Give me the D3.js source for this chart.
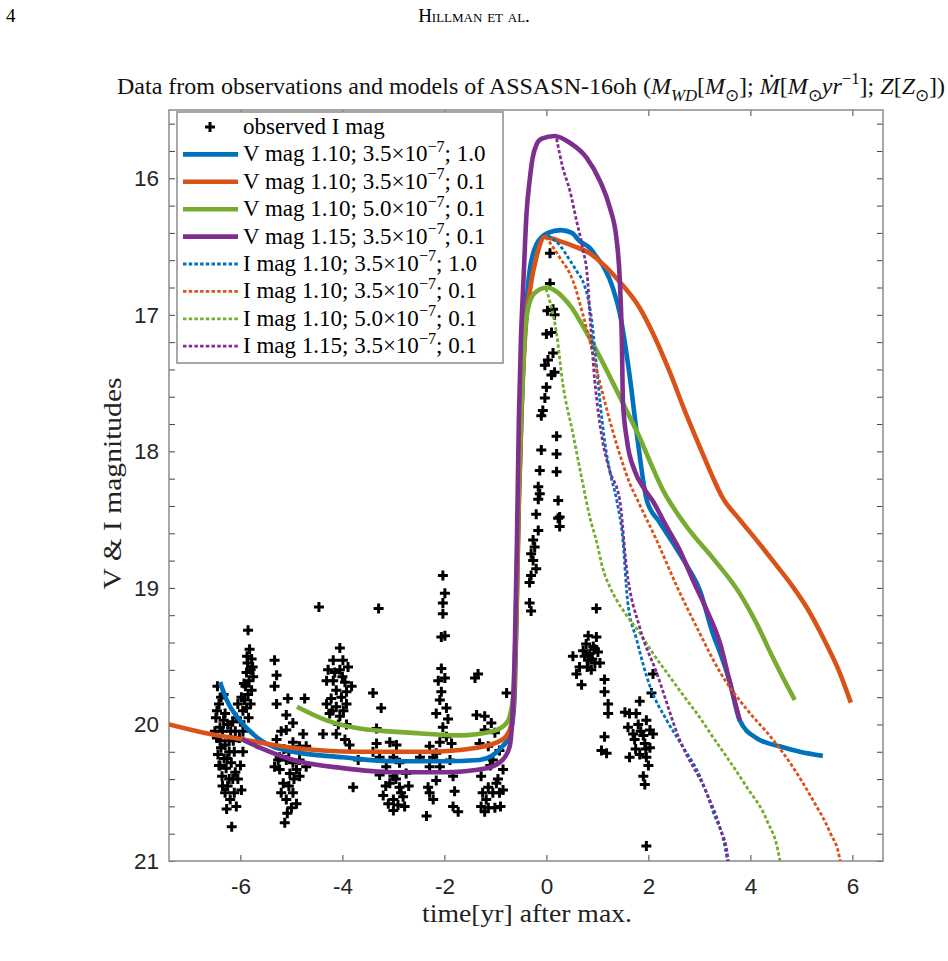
<!DOCTYPE html>
<html><head><meta charset="utf-8">
<script src="https://cdn.jsdelivr.net/npm/d3@7"></script>
<style>body{margin:0;background:#fff}</style>
</head><body>
<svg id="c" width="948" height="961"></svg>
<script>
// ---------- DATA ----------
const xTicks = [-6, -4, -2, 0, 2, 4, 6];
const yMajorTicks = [16, 17, 18, 19, 20, 21];
const legendLabels = [
  {band: "V", mass: "1.10", mdot: "3.5", z: "1.0"},
  {band: "V", mass: "1.10", mdot: "3.5", z: "0.1"},
  {band: "V", mass: "1.10", mdot: "5.0", z: "0.1"},
  {band: "V", mass: "1.15", mdot: "3.5", z: "0.1"},
  {band: "I", mass: "1.10", mdot: "3.5", z: "1.0"},
  {band: "I", mass: "1.10", mdot: "3.5", z: "0.1"},
  {band: "I", mass: "1.10", mdot: "5.0", z: "0.1"},
  {band: "I", mass: "1.15", mdot: "3.5", z: "0.1"}
];
const observedI = [
 [-6.45,19.72],[-6.42,19.85],[-6.48,19.95],[-6.40,20.02],[-6.46,20.10],[-6.38,20.17],[-6.44,20.22],[-6.35,20.05],[-6.30,19.92],[-6.32,20.25],[-6.28,20.32],[-6.36,20.38],[-6.25,20.45],[-6.22,20.12],[-6.18,20.28],[-6.15,20.40],[-6.20,20.55],[-6.30,20.50],[-6.12,20.20],[-6.10,20.35],[-6.38,19.80],[-6.33,19.97],[-6.25,20.00],[-6.19,20.05],[-6.15,19.98],[-6.40,20.30],[-6.27,20.62],[-6.17,20.75],[-6.05,19.85],[-6.08,19.95],[-6.02,20.10],[-6.50,20.05],[-6.22,20.20],[-5.98,20.48],[-6.00,20.30],[-5.95,20.20],[-6.05,20.40],
 [-6.42,20.30],[-6.35,20.45],[-6.30,20.15],[-6.26,20.25],[-6.12,20.50],[-6.08,20.60],[-6.22,20.40],[-6.40,20.12],[-6.46,19.90],[-6.33,19.78],[-6.14,20.12],[-6.10,20.05],
 [-5.85,19.31],[-5.82,19.45],[-5.78,19.52],[-5.86,19.55],[-5.80,19.60],[-5.88,19.62],[-5.75,19.65],[-5.83,19.68],[-5.90,19.72],[-5.78,19.75],[-5.85,19.78],[-5.92,19.82],[-5.80,19.85],[-5.88,19.88],[-5.95,19.90],[-5.84,19.95],[-6.00,19.98],[-5.76,19.58],[-5.93,19.70],[-5.87,19.50],[-5.95,20.05],[-5.98,19.80],
 [-5.33,19.53],[-5.29,19.64],[-5.33,19.72],[-5.29,19.85],[-5.07,19.81],[-4.74,19.81],[-5.10,19.93],[-4.97,19.99],[-5.10,20.04],[-4.77,20.07],[-5.29,20.11],[-4.97,20.13],[-5.23,20.24],[-5.10,20.26],[-4.97,20.28],[-4.84,20.26],[-4.71,20.31],[-5.23,20.33],[-5.03,20.36],[-4.84,20.38],[-5.16,20.43],[-4.97,20.50],[-5.10,20.55],[-4.90,20.58],[-5.00,20.61],[-5.13,20.72],[-5.26,20.26],[-5.33,20.31],[-4.71,20.16],[-4.84,20.16],
 [-5.20,20.05],[-5.15,20.18],[-5.05,20.20],[-4.95,20.40],[-5.05,20.45],[-4.90,20.33],[-5.20,20.50],[-5.08,20.65],
 [-4.46,19.14],
 [-4.05,19.44],[-4.18,19.53],[-3.99,19.53],[-4.28,19.60],[-4.05,19.60],[-3.89,19.58],[-4.18,19.68],[-4.31,19.68],[-3.95,19.69],[-3.82,19.72],[-4.12,19.75],[-4.02,19.80],[-4.31,19.85],[-4.12,19.87],[-3.92,19.85],[-4.25,19.92],[-4.05,19.94],[-4.38,20.07],[-4.12,20.07],[-3.92,20.00],[-3.95,20.11],[-4.22,19.81],[-3.92,19.76],
 [-4.20,19.90],[-4.00,19.65],[-4.15,19.62],[-3.98,19.90],[-4.08,20.00],
 [-3.29,19.15],
 [-3.40,19.77],[-3.24,19.88],[-3.33,20.03],[-3.86,20.15],[-3.69,20.26],[-3.79,20.46],[-3.33,20.14],[-3.07,20.13],[-2.94,20.15],[-3.27,20.24],[-3.00,20.24],[-3.14,20.31],[-2.88,20.28],[-3.27,20.37],[-3.00,20.38],[-2.75,20.36],[-3.07,20.43],[-2.88,20.46],[-3.20,20.52],[-3.00,20.55],[-2.81,20.53],[-3.00,20.63],[-2.78,20.60],[-2.91,20.59],[-2.35,20.67],[-2.32,20.46],[-2.29,20.31],[-2.29,20.16],[-2.48,20.24],[-2.22,20.24],
 [-3.15,20.45],[-2.95,20.40],[-2.85,20.50],[-3.10,20.58],[-2.70,20.45],[-3.40,20.20],
 [-2.03,18.91],[-1.99,19.04],[-2.03,19.11],[-2.03,19.19],[-2.06,19.36],[-1.99,19.35],[-2.06,19.59],[-2.12,19.68],[-1.99,19.66],[-2.06,19.76],[-2.09,19.82],[-2.16,19.92],[-1.96,19.88],[-1.93,19.96],[-2.03,20.02],[-1.96,20.09],[-2.09,20.13],[-1.86,20.14],[-2.16,20.21],[-1.89,20.26],[-2.09,20.31],[-1.83,20.38],[-2.16,20.41],[-2.29,20.50],[-1.80,20.49],[-1.83,20.60],[-1.73,20.64],[-2.22,20.55],
 [-1.34,19.63],[-1.40,19.66],[-1.37,19.93],[-1.21,19.94],[-1.08,19.99],[-1.21,20.04],[-1.01,20.06],[-1.31,20.14],[-1.14,20.16],[-0.92,20.19],[-1.05,20.26],[-0.85,20.33],[-1.28,20.38],[-1.14,20.46],[-0.98,20.43],[-0.85,20.48],[-1.05,20.50],[-0.92,20.50],[-1.28,20.60],[-1.14,20.61],[-1.01,20.61],[-1.21,20.64],[-0.78,19.77],
 [-1.10,20.30],[-1.18,20.55],[-0.95,20.40],[-1.25,20.50],[-0.90,20.60],
 [0.07,16.55],[0.07,16.77],[0.02,16.97],[0.13,16.96],[0.16,17.00],[0.00,17.14],[0.10,17.13],[0.13,17.28],[0.03,17.33],[-0.03,17.37],[0.16,17.42],[0.10,17.44],[0.00,17.53],[-0.03,17.61],[-0.07,17.70],[-0.10,17.74],[0.20,17.89],[-0.10,17.99],[0.20,18.02],[-0.13,18.14],[0.20,18.15],[-0.16,18.26],[-0.13,18.31],[-0.16,18.35],[0.23,18.36],[-0.20,18.46],[0.23,18.49],[0.26,18.55],[-0.16,18.58],[-0.26,18.65],[-0.23,18.70],[-0.30,18.75],[-0.26,18.80],[-0.20,18.86],[-0.30,18.91],[-0.33,18.96],[-0.33,19.11],[-0.30,19.17],[0.26,18.48],
 [0.98,19.15],[0.82,19.35],[0.98,19.36],[0.78,19.41],[0.92,19.43],[0.72,19.46],[0.85,19.48],[1.01,19.47],[0.52,19.50],[0.82,19.53],[0.95,19.55],[0.65,19.58],[1.05,19.55],[0.88,19.60],[0.59,19.63],[0.69,19.71],[1.14,19.67],[1.14,19.76],[1.21,19.85],[1.21,19.92],[1.14,20.09],[1.18,20.21],[1.08,20.19],
 [0.90,19.52],[0.75,19.50],[0.95,19.45],[0.80,19.58],
 [1.83,19.83],[1.63,19.92],[1.76,19.92],[1.60,20.02],[1.80,20.00],[1.96,19.97],[2.03,20.04],[1.70,20.07],[1.90,20.08],[2.09,20.07],[1.73,20.11],[1.93,20.14],[2.03,20.17],[1.63,20.24],[1.83,20.22],[1.96,20.24],[1.90,20.38],[1.93,20.44],[1.96,20.89],[2.09,19.63],[2.06,19.77],[1.54,19.91],
 [1.85,20.05],[1.95,20.18],[1.75,20.18],[2.00,20.30]
];
const vMag110_35_10 = [[-6.40,19.69],[-6.27,19.82],[-6.01,19.97],[-5.62,20.11],[-4.97,20.20],[-3.99,20.24],[-3.01,20.27],[-2.03,20.27],[-1.31,20.26],[-0.86,20.16],[-0.72,20.08],[-0.66,19.97],[-0.62,19.75],[-0.58,19.09],[-0.54,18.36],[-0.48,17.63],[-0.41,17.04],[-0.33,16.68],[-0.19,16.48],[0.03,16.40],[0.28,16.38],[0.50,16.40],[0.65,16.46],[0.85,16.51],[0.99,16.58],[1.14,16.66],[1.30,16.80],[1.44,16.99],[1.63,17.44],[1.79,17.92],[1.97,18.36],[2.22,18.52],[2.48,18.67],[2.76,18.84],[3.01,19.02],[3.26,19.33],[3.44,19.51],[3.59,19.68],[3.79,19.97],[4.12,20.10],[4.57,20.16],[4.97,20.20],[5.42,20.23]];
const vMag110_35_01 = [[-7.40,20.00],[-6.72,20.06],[-5.94,20.11],[-4.97,20.17],[-3.66,20.20],[-2.35,20.20],[-1.36,20.17],[-0.86,20.11],[-0.72,20.04],[-0.66,19.93],[-0.62,19.67],[-0.58,19.09],[-0.54,18.36],[-0.48,17.63],[-0.41,17.11],[-0.31,16.79],[-0.19,16.57],[-0.03,16.43],[0.26,16.46],[0.56,16.50],[0.85,16.55],[1.14,16.64],[1.44,16.76],[1.83,16.95],[2.12,17.16],[2.42,17.42],[2.71,17.70],[3.01,17.97],[3.24,18.17],[3.44,18.33],[3.79,18.50],[4.12,18.65],[4.48,18.82],[4.83,18.99],[5.10,19.14],[5.42,19.36],[5.75,19.62],[5.97,19.84]];
const vMag110_50_01 = [[-4.89,19.87],[-4.31,19.97],[-3.66,20.03],[-2.68,20.06],[-1.70,20.08],[-1.05,20.05],[-0.78,19.99],[-0.70,19.91],[-0.64,19.75],[-0.60,19.24],[-0.56,18.50],[-0.50,17.77],[-0.44,17.26],[-0.37,16.97],[-0.23,16.84],[0.01,16.80],[0.16,16.82],[0.32,16.87],[0.50,16.95],[0.65,17.04],[0.85,17.17],[1.05,17.31],[1.28,17.48],[1.53,17.67],[1.83,17.90],[2.06,18.10],[2.28,18.28],[2.54,18.44],[2.81,18.58],[3.26,18.78],[3.79,19.04],[4.12,19.26],[4.44,19.51],[4.67,19.68],[4.87,19.82]];
const vMag115_35_01 = [[-5.97,20.11],[-5.62,20.17],[-4.97,20.26],[-3.99,20.32],[-3.01,20.35],[-2.03,20.35],[-1.17,20.32],[-0.86,20.26],[-0.72,20.16],[-0.66,19.89],[-0.62,19.46],[-0.58,18.72],[-0.54,17.77],[-0.50,17.19],[-0.45,16.75],[-0.39,16.26],[-0.33,16.02],[-0.27,15.85],[-0.19,15.75],[-0.09,15.71],[0.16,15.69],[0.46,15.74],[0.79,15.85],[1.05,16.02],[1.24,16.21],[1.38,16.46],[1.44,16.75],[1.48,17.19],[1.50,17.63],[1.58,17.92],[1.73,18.14],[1.93,18.28],[2.08,18.36],[2.34,18.54],[2.61,18.72],[2.87,18.94],[3.14,19.16],[3.40,19.40],[3.59,19.68],[3.79,19.97]];
const iMag110_35_10 = [[0.03,16.42],[0.26,16.49],[0.46,16.60],[0.61,16.69],[0.71,16.75],[0.81,16.87],[0.89,17.04],[0.97,17.33],[1.05,17.63],[1.14,17.92],[1.24,18.14],[1.38,18.36],[1.50,18.65],[1.59,19.09],[1.77,19.38],[2.03,19.72],[2.36,19.97],[2.67,20.16],[3.01,20.38],[3.26,20.63],[3.54,20.98],[3.56,21.05]];
const iMag110_35_01 = [[-0.01,16.43],[0.26,16.58],[0.52,16.75],[0.71,16.99],[0.85,17.19],[0.99,17.41],[1.14,17.63],[1.30,17.85],[1.48,18.07],[1.63,18.23],[1.79,18.36],[2.16,18.65],[2.56,18.99],[2.95,19.29],[3.41,19.62],[3.93,19.89],[4.44,20.11],[4.83,20.31],[5.22,20.55],[5.56,20.79],[5.75,20.98],[5.78,21.05]];
const iMag110_50_01 = [[-0.01,16.81],[0.06,16.89],[0.20,17.14],[0.32,17.50],[0.52,17.87],[0.71,18.23],[0.85,18.48],[0.99,18.67],[1.10,18.85],[1.24,18.99],[1.38,19.09],[1.57,19.20],[1.83,19.33],[2.09,19.48],[2.36,19.62],[2.67,19.78],[3.01,19.95],[3.26,20.09],[3.54,20.24],[3.93,20.46],[4.32,20.70],[4.57,20.98],[4.60,21.05]];
const iMag115_35_01 = [[0.20,15.71],[0.32,15.92],[0.46,16.09],[0.59,16.31],[0.71,16.51],[0.81,16.75],[0.85,16.99],[0.89,17.19],[0.93,17.41],[0.99,17.63],[1.10,17.92],[1.24,18.14],[1.44,18.36],[1.57,18.85],[1.83,19.29],[2.16,19.62],[2.61,20.11],[3.14,20.50],[3.40,20.75],[3.56,20.98],[3.58,21.05]];

const modelSeries = [vMag110_35_10, vMag110_35_01, vMag110_50_01, vMag115_35_01,
                     iMag110_35_10, iMag110_35_01, iMag110_50_01, iMag115_35_01];
const palette = ["#0072BD", "#D95319", "#77AC30", "#7E2F8E"];

// ---------- LAYOUT ----------
const svg = d3.select("#c");
const L = 169, R = 883, T = 110, B = 861;
const x = d3.scaleLinear().domain([-7.4, 6.6]).range([L, R]);
const y = d3.scaleLinear().domain([15.5, 21]).range([T, B]);
const serif = "'Liberation Serif','Times New Roman',serif";
const sans = "'Liberation Sans',Arial,sans-serif";

// header
svg.append("text").attr("x", 6).attr("y", 22).attr("font-family", serif).attr("font-size", 19).text("4");
svg.append("text").attr("x", 474).attr("y", 22).attr("text-anchor", "middle")
  .attr("font-family", serif).attr("font-size", 19).style("font-variant", "small-caps").text("Hillman et al.");

// rich text helper
function rich(sel, segs, size) {
  let cur = 0;
  segs.forEach(s => {
    const target = s.sh === "sub" ? 0.28 * size : s.sh === "sup" ? -0.42 * size : 0;
    const ts = sel.append("tspan").text(s.t).attr("dy", target - cur);
    cur = target;
    if (s.sh) ts.attr("font-size", size * 0.7);
    if (s.it) ts.attr("font-style", "italic");
  });
}

// title
const title = svg.append("text").attr("x", 531).attr("y", 94).attr("text-anchor", "middle")
  .attr("font-family", serif).attr("font-size", 24).attr("fill", "#111");
rich(title, [
  {t: "Data from observations and models of ASSASN-16oh ("},
  {t: "M", it: 1}, {t: "WD", it: 1, sh: "sub"}, {t: "["}, {t: "M", it: 1}, {t: "\u2299", sh: "sub"}, {t: "]; "},
  {t: "\u1E40", it: 1}, {t: "["}, {t: "M", it: 1}, {t: "\u2299", sh: "sub"}, {t: "yr", it: 1}, {t: "\u22121", sh: "sup"}, {t: "]; "},
  {t: "Z", it: 1}, {t: "["}, {t: "Z", it: 1}, {t: "\u2299", sh: "sub"}, {t: "])"}
], 24);

// clip
svg.append("clipPath").attr("id", "clip").append("rect").attr("x", L).attr("y", T).attr("width", R - L).attr("height", B - T);

// axes
const yTicksAll = d3.range(15.6, 21.001, 0.2).map(v => +v.toFixed(1));
const fmtY = d => (yMajorTicks.includes(d) ? String(d) : "");
const axStyle = g => {
  g.select(".domain").remove();
  g.selectAll(".tick line").attr("stroke", "#444").attr("stroke-width", 1);
  g.selectAll(".tick text").attr("font-family", sans).attr("font-size", 22.5).attr("fill", "#262626");
};
svg.append("g").attr("transform", `translate(0,${B})`)
  .call(d3.axisBottom(x).tickValues(xTicks).tickSizeInner(-6).tickSizeOuter(0).tickPadding(17).tickFormat(d => d < 0 ? "-" + Math.abs(d) : String(d)))
  .call(axStyle);
svg.append("g").attr("transform", `translate(0,${T})`)
  .call(d3.axisTop(x).tickValues(xTicks).tickSizeInner(-6).tickSizeOuter(0).tickFormat(""))
  .call(axStyle);
svg.append("g").attr("transform", `translate(${L},0)`)
  .call(d3.axisLeft(y).tickValues(yTicksAll).tickSizeInner(-6).tickSizeOuter(0).tickPadding(10).tickFormat(fmtY))
  .call(axStyle);
svg.append("g").attr("transform", `translate(${R},0)`)
  .call(d3.axisRight(y).tickValues(yTicksAll).tickSizeInner(-6).tickSizeOuter(0).tickFormat(""))
  .call(axStyle);
svg.append("rect").attr("x", L).attr("y", T).attr("width", R - L).attr("height", B - T)
  .attr("fill", "none").attr("stroke", "#8a8a8a").attr("stroke-width", 1.5);

// axis labels
svg.append("text").attr("x", 527).attr("y", 922).attr("text-anchor", "middle")
  .attr("font-family", serif).attr("font-size", 25).attr("fill", "#222")
  .attr("textLength", 210).attr("lengthAdjust", "spacingAndGlyphs").text("time[yr] after max.");
svg.append("text").attr("transform", `translate(121,${(T + B) / 2 - 2}) rotate(-90)`).attr("text-anchor", "middle")
  .attr("font-family", serif).attr("font-size", 25).attr("fill", "#222")
  .attr("textLength", 212).attr("lengthAdjust", "spacingAndGlyphs").text("V & I magnitudes");

// plot
const plot = svg.append("g").attr("clip-path", "url(#clip)");
const plusPath = "M-5,0H5M0,-5V5";
plot.append("g").selectAll("path").data(observedI).join("path")
  .attr("transform", d => `translate(${x(d[0])},${y(d[1])})`)
  .attr("d", plusPath).attr("stroke", "#000").attr("stroke-width", 3).attr("fill", "none");

const line = d3.line().x(d => x(d[0])).y(d => y(d[1])).curve(d3.curveMonotoneX);
modelSeries.forEach((s, i) => {
  const dotted = i >= 4;
  plot.append("path").datum(s).attr("d", line).attr("fill", "none")
    .attr("stroke", palette[i % 4])
    .attr("stroke-width", dotted ? 2.8 : 4.6)
    .attr("stroke-linejoin", "round")
    .attr("stroke-dasharray", dotted ? "3.5,2.2" : null);
});

// legend
const lg = svg.append("g");
const LX = 177, LY = 112, LW = 326, LH = 251, rowH = 27.4, row0 = 127;
lg.append("rect").attr("x", LX).attr("y", LY).attr("width", LW).attr("height", LH)
  .attr("fill", "#fff").attr("stroke", "#8a8a8a").attr("stroke-width", 1.5);
lg.append("path").attr("transform", `translate(210,${row0})`).attr("d", plusPath)
  .attr("stroke", "#000").attr("stroke-width", 3);
lg.append("text").attr("x", 243).attr("y", row0 + 7).attr("font-family", serif).attr("font-size", 23).text("observed I mag");
legendLabels.forEach((d, i) => {
  const yy = row0 + rowH * (i + 1);
  const dotted = i >= 4;
  lg.append("line").attr("x1", 183).attr("x2", 238).attr("y1", yy).attr("y2", yy)
    .attr("stroke", palette[i % 4]).attr("stroke-width", dotted ? 2.8 : 4.6)
    .attr("stroke-dasharray", dotted ? "3.5,2.2" : null);
  const t = lg.append("text").attr("x", 243).attr("y", yy + 7).attr("font-family", serif).attr("font-size", 23);
  rich(t, [{t: `${d.band} mag ${d.mass}; ${d.mdot}\u00D710`}, {t: "\u22127", sh: "sup"}, {t: `; ${d.z}`}], 23);
});
</script>
</body></html>
